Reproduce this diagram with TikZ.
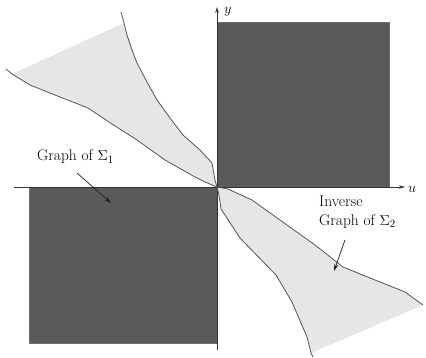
\documentclass[tikz,border=0pt]{standalone}
\usetikzlibrary{arrows.meta}
\definecolor{boxgray}{HTML}{5A5A5A}
\definecolor{boxedge}{HTML}{6E6E6E}
\definecolor{regiongray}{HTML}{E6E6E6}
\definecolor{curvegray}{HTML}{555555}
\begin{document}
\begin{tikzpicture}[x=1pt,y=-1pt,
  darkbox/.style={fill=boxgray, draw=boxedge, line width=0.8pt},
  lightreg/.style={fill=regiongray},
  curve/.style={draw=curvegray, line width=0.8pt, line join=round},
  axis/.style={draw=black!80, line width=0.9pt},
  pointer/.style={draw=black!88, line width=0.7pt, -{Stealth[length=7pt,width=4pt]}},
  lbl/.style={font=\fontsize{15.5}{19}\selectfont, align=left, inner sep=0pt}]
\useasboundingbox (0,0) rectangle (426,358);
% light regions
\fill[lightreg] (12,74) -- (124,23) -- (127,35) -- (132,50) -- (137,63) -- (147,82) -- (157,100) -- (170,118) -- (183,135) -- (200,150) -- (212,163) -- (215,180) -- (217,187)
  -- (205,182) -- (195,177) -- (165,160) -- (137,140) -- (112,124) -- (88,108) -- (60,97) -- (30,85) -- cycle;
\fill[lightreg] (217,187) -- (228,189) -- (252,200) -- (280,220) -- (315,245) -- (343,267) -- (375,280) -- (405,292) -- (423,305)
  -- (311,353) -- (307,337) -- (292,302) -- (276,275) -- (240,238) -- (221,209) -- (219,195) -- cycle;
% dark boxes
\draw[darkbox] (217,22) rectangle (389,187);
\draw[darkbox] (29,187) rectangle (217,343);
% axes
\node[lbl, anchor=west] (ulab) at (408,189) {$u$};
\node[lbl, anchor=west] (ylab) at (224,12) {$y$};
\coordinate (xstart) at (14,187);
\coordinate (xend) at (405,187);
\coordinate (ystart) at (217,350);
\coordinate (yend) at (217,7);
\draw[axis, -{Stealth[length=6pt,width=3.5pt]}] (xstart) -- (xend);
\draw[axis, -{Stealth[length=6pt,width=3.5pt]}] (ystart) -- (yend);
% curves
\draw[curve] (121,12) -- (124,23) -- (127,35) -- (132,50) -- (137,63) -- (147,82) -- (157,100) -- (170,118) -- (183,135) -- (200,150) -- (212,163) -- (215,180) -- (217,187);
\draw[curve] (6,69) -- (12,74) -- (30,85) -- (60,97) -- (88,108) -- (112,124) -- (137,140) -- (165,160) -- (195,177) -- (205,182) -- (217,187);
\draw[curve] (217,187) -- (228,189) -- (252,200) -- (280,220) -- (315,245) -- (343,267) -- (375,280) -- (405,292) -- (423,305);
\draw[curve] (217,187) -- (219,195) -- (221,209) -- (240,238) -- (276,275) -- (292,302) -- (307,337) -- (311,353) -- (313,357);
% labels
\node[lbl, anchor=west] (g1) at (37,157) {Graph of $\Sigma_1$};
\coordinate (g1tail) at (77,173);
\coordinate (g1tip) at (111,203);
\draw[pointer] (g1tail) -- (g1tip);
\node[lbl, anchor=north west] (g2) at (319,196) {Inverse\\Graph of $\Sigma_2$};
\coordinate (g2tail) at (345,240);
\coordinate (g2tip) at (334,271);
\draw[pointer] (g2tail) -- (g2tip);
\end{tikzpicture}
\end{document}
